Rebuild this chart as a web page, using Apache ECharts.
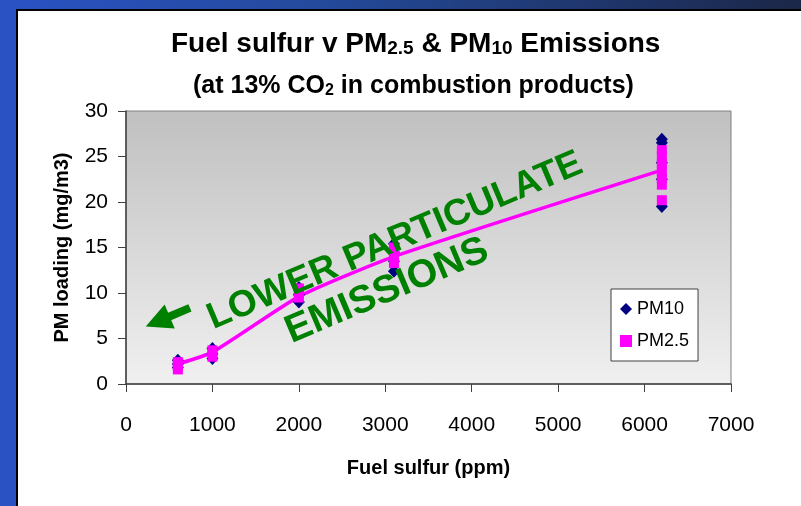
<!DOCTYPE html>
<html>
<head>
<meta charset="utf-8">
<script src="https://cdn.jsdelivr.net/npm/echarts@6/dist/echarts.min.js"></script>
<style>html,body{margin:0;padding:0;background:#fff;}#c{width:801px;height:506px;}</style>
</head>
<body>
<div id="c"></div>
<script>
// ---- data ----
var sulfurLevels = [600, 1000, 2000, 3100, 6200];
var pm10Values = [
  [1.8, 2.2, 2.6],
  [2.8, 3.3, 3.9],
  [9.0, 9.8, 10.6],
  [12.4, 13.5, 14.5, 15.4],
  [19.5, 22.5, 24.3, 26.5, 26.9]
];
var pm25Values = [
  [1.6, 2.0, 2.4],
  [3.0, 3.4, 3.7],
  [9.5, 10.0, 10.5],
  [13.3, 14.0, 14.5, 15.0],
  [20.2, 21.9, 22.6, 23.4, 24.2, 25.0, 25.7]
];
var trendValues = [2.2, 3.5, 9.6, 14.0, 23.5];
var xTicks = [0, 1000, 2000, 3000, 4000, 5000, 6000, 7000];
var yTicks = [0, 5, 10, 15, 20, 25, 30];

function pairs(levels, groups) {
  var out = [];
  levels.forEach(function (x, i) {
    groups[i].forEach(function (v) { out.push([x, v]); });
  });
  return out;
}
var pm10Data = pairs(sulfurLevels, pm10Values);
var pm25Data = pairs(sulfurLevels, pm25Values);
var trendData = sulfurLevels.map(function (x, i) { return [x, trendValues[i]]; });

var FONT = "'Liberation Sans', Arial, sans-serif";
var chart = echarts.init(document.getElementById('c'), null, {renderer: 'canvas'});
var rot = 23 * Math.PI / 180;

chart.setOption({
  backgroundColor: '#ffffff',
  animation: false,
  textStyle: {fontFamily: FONT},
  title: [{
    text: 'Fuel sulfur v PM{sub|2.5} & PM{sub|10} Emissions',
    left: 166, top: 25,
    textStyle: {
      fontFamily: FONT, fontWeight: 'bold', fontSize: 28, color: '#000',
      rich: {sub: {fontFamily: FONT, fontWeight: 'bold', fontSize: 19, verticalAlign: 'bottom', lineHeight: 16}}
    }
  }, {
    text: '(at 13% CO{sub|2} in combustion products)',
    left: 188, top: 69,
    textStyle: {
      fontFamily: FONT, fontWeight: 'bold', fontSize: 25, color: '#000',
      rich: {sub: {fontFamily: FONT, fontWeight: 'bold', fontSize: 16, verticalAlign: 'bottom', lineHeight: 13}}
    }
  }],
  grid: {
    left: 126, right: 70, top: 111, bottom: 122,
    show: true,
    borderColor: '#808080', borderWidth: 1,
    backgroundColor: {type: 'linear', x: 0, y: 0, x2: 0, y2: 1,
      colorStops: [{offset: 0, color: '#c0c0c0'}, {offset: 1, color: '#f0f0f0'}]}
  },
  xAxis: {
    type: 'value', min: xTicks[0], max: xTicks[xTicks.length - 1], interval: 1000,
    name: 'Fuel sulfur (ppm)', nameLocation: 'middle', nameGap: 74,
    nameTextStyle: {fontFamily: FONT, fontWeight: 'bold', fontSize: 20, color: '#000'},
    axisLine: {show: true, lineStyle: {color: '#404040', width: 1.5}},
    axisTick: {show: true, inside: false, length: 8, lineStyle: {color: '#404040'}},
    axisLabel: {fontFamily: FONT, fontSize: 21, color: '#000', margin: 31,
      formatter: function (v) { return String(v); }},
    splitLine: {show: false}
  },
  yAxis: {
    type: 'value', min: yTicks[0], max: yTicks[yTicks.length - 1], interval: 5,
    name: 'PM loading (mg/m3)', nameLocation: 'middle', nameGap: 54, nameRotate: 90,
    nameTextStyle: {fontFamily: FONT, fontWeight: 'bold', fontSize: 20, color: '#000'},
    axisLine: {show: true, lineStyle: {color: '#404040', width: 1.5}},
    axisTick: {show: true, inside: false, length: 8, lineStyle: {color: '#404040'}},
    axisLabel: {fontFamily: FONT, fontSize: 21, color: '#000', margin: 18,
      formatter: function (v) { return String(v); }},
    splitLine: {show: false}
  },
  legend: {
    orient: 'vertical', left: 611, top: 289,
    backgroundColor: '#ffffff', borderColor: '#404040', borderWidth: 1,
    padding: [11, 9, 11, 9], itemGap: 14, itemWidth: 12, itemHeight: 12,
    textStyle: {fontFamily: FONT, fontSize: 18, color: '#000'},
    data: [{name: 'PM10', icon: 'diamond'}, {name: 'PM2.5', icon: 'rect'}]
  },
  series: [{
    name: 'Trend', type: 'line', data: trendData, smooth: 0.18,
    showSymbol: false, symbol: 'none',
    lineStyle: {color: '#ff00ff', width: 3.5}, z: 2
  }, {
    name: 'PM10', type: 'scatter', data: pm10Data,
    symbol: 'diamond', symbolSize: [12, 13],
    itemStyle: {color: '#000080', opacity: 1}, z: 3
  }, {
    name: 'PM2.5', type: 'scatter', data: pm25Data,
    symbol: 'rect', symbolSize: [10, 10],
    itemStyle: {color: '#ff00ff', opacity: 1}, z: 4
  }],
  graphic: [
    {type: 'rect', z: -100, shape: {x: 0, y: 0, width: 801, height: 506},
     style: {fill: {type: 'linear', x: 0, y: 0, x2: 1, y2: 0,
       colorStops: [{offset: 0, color: '#2a52c4'}, {offset: 0.4, color: '#244a9c'}, {offset: 1, color: '#1b2748'}]}}},
    {type: 'rect', z: -99, shape: {x: 17, y: 10, width: 790, height: 500},
     style: {fill: '#ffffff', stroke: '#000000', lineWidth: 2}},
    {type: 'group', x: 166, y: 318, rotation: rot, z: 50, children: [
      {type: 'rect', shape: {x: 0, y: -4, width: 26, height: 8}, style: {fill: '#008000'}},
      {type: 'polygon', shape: {points: [[-22, 0], [4, -13], [4, 13]]}, style: {fill: '#008000'}}
    ]},
    {type: 'text', x: 395, y: 241, rotation: rot, z: 50,
     style: {text: 'LOWER PARTICULATE', fill: '#008000', font: 'bold 37px ' + FONT,
       textAlign: 'center', textVerticalAlign: 'middle'}},
    {type: 'text', x: 387, y: 291, rotation: rot, z: 50,
     style: {text: 'EMISSIONS', fill: '#008000', font: 'bold 39px ' + FONT,
       textAlign: 'center', textVerticalAlign: 'middle'}}
  ]
});
</script>
</body>
</html>
